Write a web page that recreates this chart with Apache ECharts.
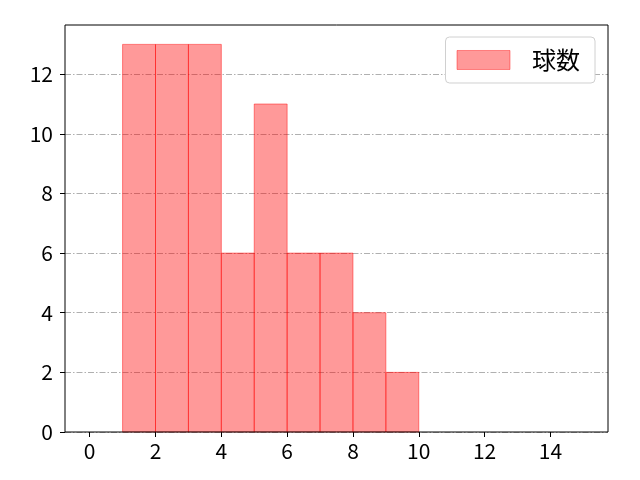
<!DOCTYPE html>
<html>
<head>
<meta charset="utf-8">
<script src="https://cdn.jsdelivr.net/npm/echarts@6/dist/echarts.min.js"></script>
<style>html,body{margin:0;padding:0;background:#fff;}#c{width:640px;height:480px;}</style>
</head>
<body>
<div id="c"></div>
<script>
const binStarts = [1, 2, 3, 4, 5, 6, 7, 8, 9];
const binEnds = [2, 3, 4, 5, 6, 7, 8, 9, 10];
const counts = [13, 13, 13, 6, 11, 6, 6, 4, 2];
const xTicks = [0, 2, 4, 6, 8, 10, 12, 14];
const yTicks = [0, 2, 4, 6, 8, 10, 12];
const seriesName = '球数';

const FONT = '"Noto Sans CJK JP", "DejaVu Sans", sans-serif';
const data = binStarts.map((s, i) => [s, binEnds[i], counts[i]]);

const chart = echarts.init(document.getElementById('c'));
chart.setOption({
  animation: false,
  backgroundColor: '#fff',
  grid: { left: 65, right: 32, top: 25, bottom: 48, show: true, borderColor: '#000', borderWidth: 1, backgroundColor: 'transparent', z: 10 },
  legend: {
    right: 45, top: 37,
    data: [{ name: seriesName, icon: 'rect' }],
    itemWidth: 53, itemHeight: 19,
    padding: [11, 15, 11, 11],
    backgroundColor: '#fff',
    borderColor: '#d0d0d0', borderWidth: 1, borderRadius: 4,
    textStyle: { fontFamily: FONT, fontSize: 24, color: '#000', padding: [0, 0, 0, 17] },
    itemStyle: { color: 'rgba(255,0,0,0.4)', borderColor: 'rgba(255,0,0,0.4)', borderWidth: 1 }
  },
  xAxis: {
    type: 'value', min: -0.75, max: 15.75, interval: 0.25,
    axisLine: { show: false, onZero: false },
    axisTick: { show: true, inside: false, length: 5, lineStyle: { color: '#000' }, customValues: xTicks },
    axisLabel: { fontFamily: FONT, fontSize: 21, color: '#000', margin: 9, customValues: xTicks },
    splitLine: { show: false }
  },
  yAxis: {
    type: 'value', min: 0, max: 13.65, interval: 2,
    axisLine: { show: false, onZero: false },
    axisTick: { show: true, inside: false, length: 5, lineStyle: { color: '#000' }, customValues: yTicks },
    axisLabel: { fontFamily: FONT, fontSize: 21, color: '#000', margin: 12, customValues: yTicks },
    splitLine: { show: true, lineStyle: { color: '#b0b0b0', width: 1, type: [6, 2, 1.5, 2] } }
  },
  series: [{
    type: 'custom',
    name: seriesName,
    data: data,
    encode: { x: [0, 1], y: 2 },
    itemStyle: { color: 'rgba(255,0,0,0.4)', borderColor: 'rgba(255,0,0,0.4)', borderWidth: 1 },
    renderItem: function (params, api) {
      const p0 = api.coord([api.value(0), api.value(2)]);
      const p1 = api.coord([api.value(1), 0]);
      return {
        type: 'rect',
        shape: { x: p0[0], y: p0[1], width: p1[0] - p0[0], height: p1[1] - p0[1] },
        style: { fill: 'rgba(255,0,0,0.4)', stroke: 'rgba(255,0,0,0.45)', lineWidth: 1 }
      };
    }
  }]
});
</script>
</body>
</html>
